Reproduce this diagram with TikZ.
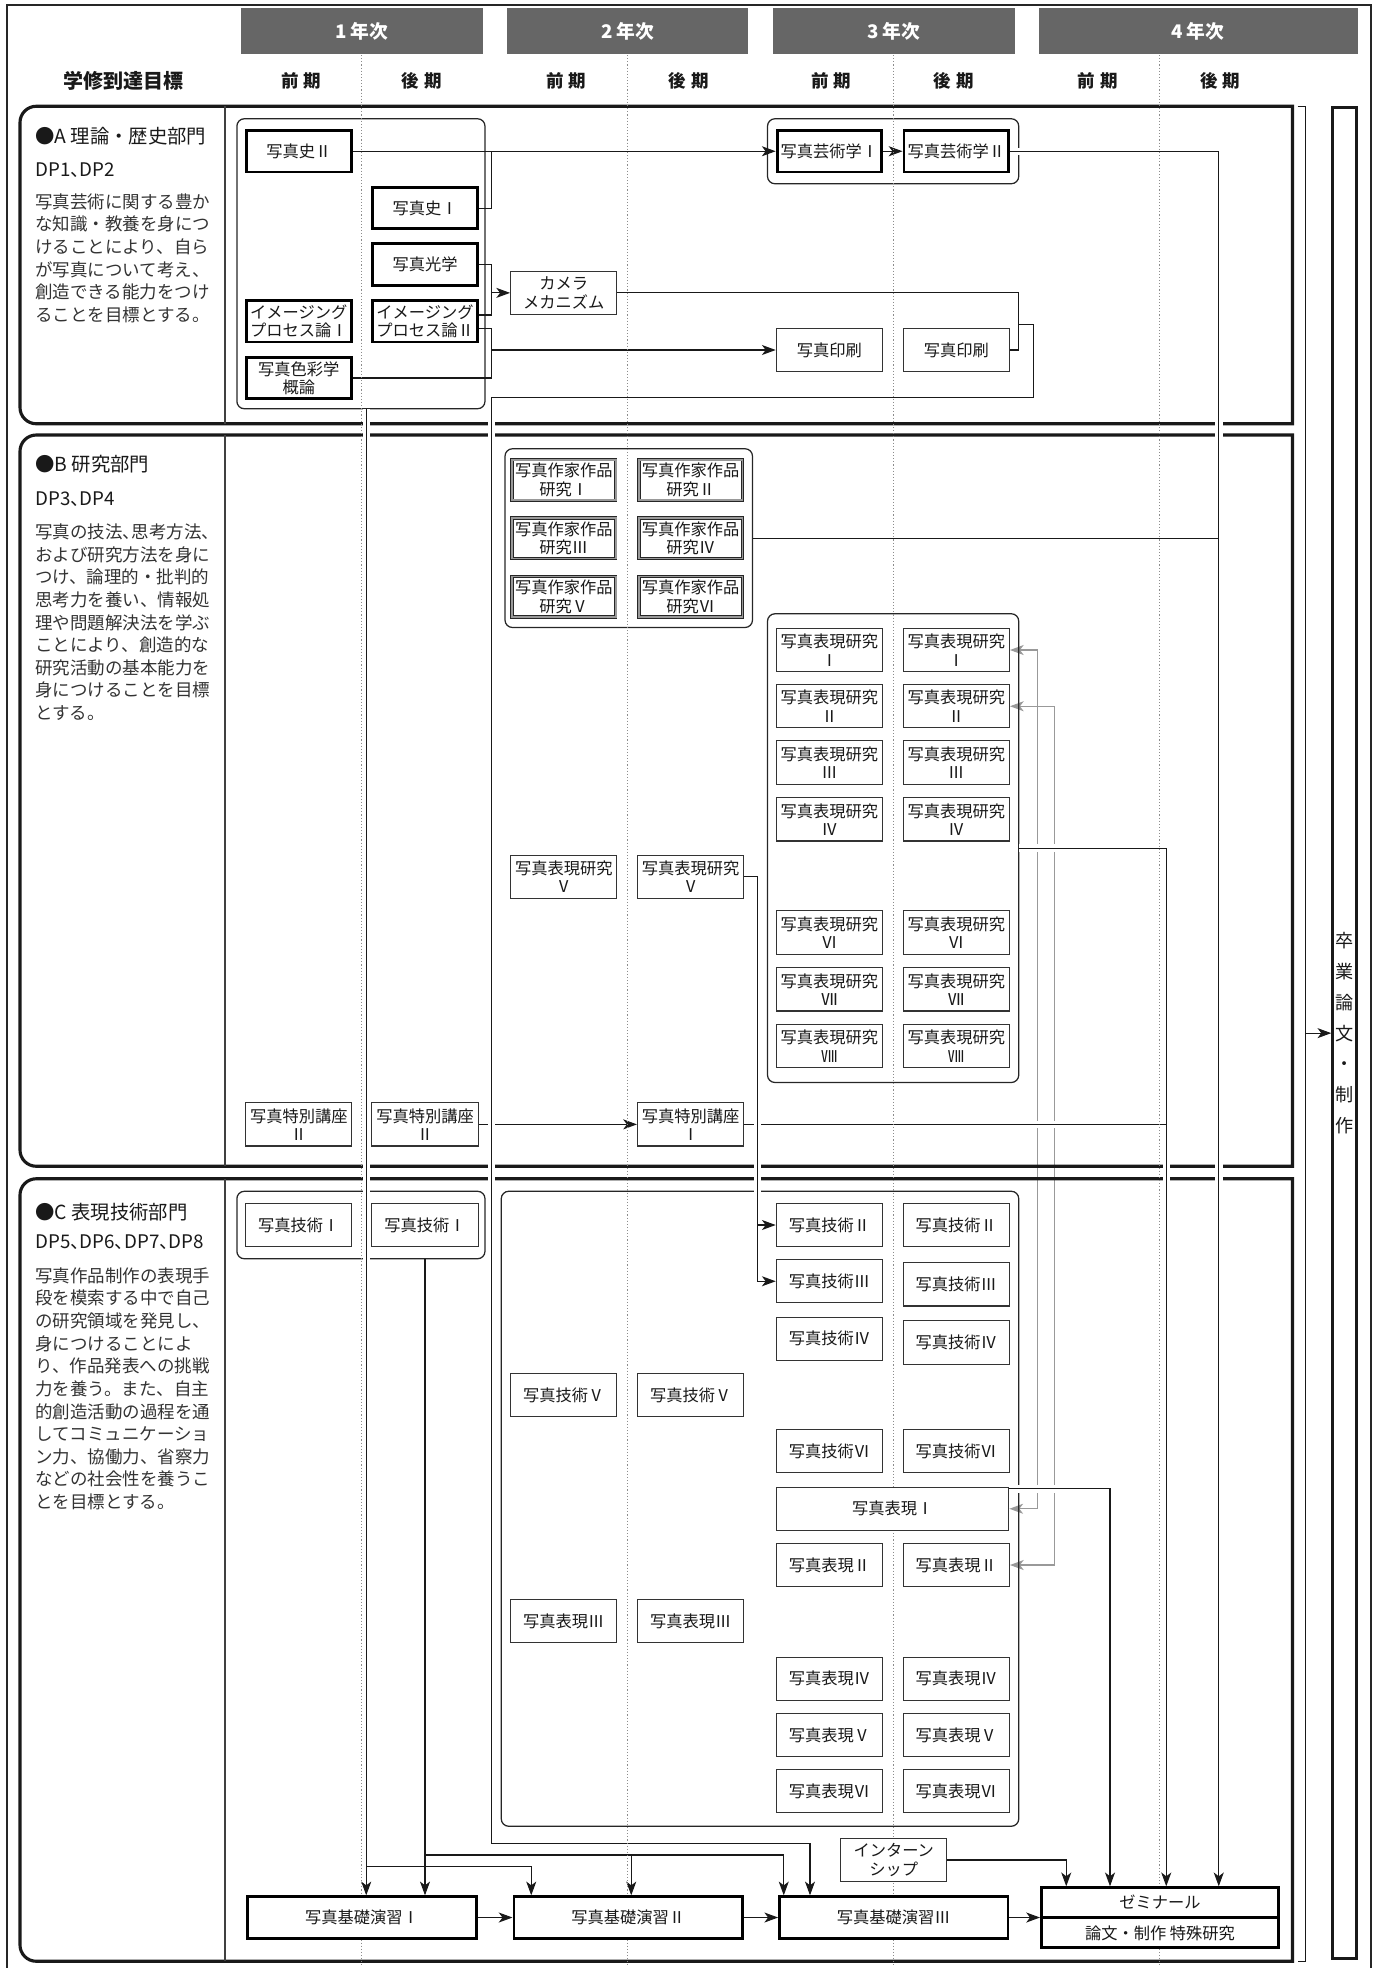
\documentclass[tikz,border=0pt]{standalone}
\usepackage{fontspec}
\setmainfont{Noto Sans CJK JP}
\usetikzlibrary{arrows.meta,calc}
\pgfdeclarelayer{greylinks}
\pgfdeclarelayer{frames}
\pgfdeclarelayer{groups}
\pgfdeclarelayer{links}
\pgfdeclarelayer{dividers}
\pgfsetlayers{greylinks,frames,groups,links,dividers,main}

\tikzset{
  yearbox/.style={fill=black!60, text=white, inner sep=0pt, minimum height=37.5pt,
    font=\fontsize{15}{15}\selectfont\bfseries},
  term/.style={inner sep=0pt, text=black!90, font=\fontsize{14}{14}\selectfont\bfseries},
  secttl/.style={anchor=west, inner sep=0pt, text=black!90, font=\fontsize{15.5}{15.5}\selectfont},
  secdp/.style={anchor=west, inner sep=0pt, text=black!90,
    font=\fontsize{15}{15}\selectfont\addfontfeature{RawFeature=+halt}},
  secdesc/.style={anchor=west, inner sep=0pt, align=left, text=black!80,
    font=\fontsize{14}{18.1}\selectfont},
  section/.style={draw=black!90, line width=2.5pt},
  secrule/.style={draw=black!75, line width=0.9pt},
  divider/.style={draw=black!45, line width=0.8pt, dash pattern=on 0.9pt off 1.6pt},
  grp/.style={draw=black!85, line width=1pt, rounded corners=6pt, inner sep=0pt},
  course/.style={draw=black!80, line width=0.9pt, fill=white, inner sep=0pt, align=center,
    minimum width=85pt, minimum height=34.6pt, text=black!90,
    font=\fontsize{13}{14.7}\selectfont},
  core/.style={course, draw=black, line width=2.3pt, minimum width=83.7pt, minimum height=33.2pt},
  work/.style={course, draw=black!85, line width=0.7pt, double=black!40, double distance=1.5pt,
    minimum width=83pt, minimum height=32.6pt},
  link/.style={draw=black!90, line width=0.85pt},
  bridge/.style={preaction={draw=white, line width=6pt, arrows=-}},
  gline/.style={draw=black!40, line width=0.9pt, <->},
}

\begin{document}
\begin{tikzpicture}[x=1pt, y=-1pt, >={Stealth[length=11pt,width=8pt,inset=3pt]}]
\useasboundingbox (0,0) rectangle (1100,1574.4);

% year heads
\node[yearbox, minimum width=193pt] (yr1) at (289.5,24.75) {1\hspace{3pt}年次};
\node[yearbox, minimum width=193pt] (yr2) at (502,24.75) {2\hspace{3pt}年次};
\node[yearbox, minimum width=194pt] (yr3) at (715,24.75) {3\hspace{3pt}年次};
\node[yearbox, minimum width=255pt] (yr4) at (958.5,24.75) {4\hspace{3pt}年次};

\node[term, font=\fontsize{16}{16}\selectfont\bfseries] (goal) at (98.5,64.5) {学修到達目標};
\node[term] (p1a) at (241,64.5) {前\hspace{4pt}期};
\node[term] (p1b) at (337.5,64.5) {後\hspace{4pt}期};
\node[term] (p2a) at (453,64.5) {前\hspace{4pt}期};
\node[term] (p2b) at (551,64.5) {後\hspace{4pt}期};
\node[term] (p3a) at (665,64.5) {前\hspace{4pt}期};
\node[term] (p3b) at (763,64.5) {後\hspace{4pt}期};
\node[term] (p4a) at (878,64.5) {前\hspace{4pt}期};
\node[term] (p4b) at (976,64.5) {後\hspace{4pt}期};

% section texts
\node[secttl] (aTtl) at (28,109) {●A 理論・歴史部門};
\node[secdp] (aDp) at (28,136) {DP1、DP2};
\node[secdesc] (aDesc) at (28,206.5) {写真芸術に関する豊か\\な知識・教養を身につ\\けることにより、自ら\\が写真について考え、\\創造できる能力をつけ\\ることを目標とする。};
\node[secttl] (bTtl) at (28,371) {●B 研究部門};
\node[secdp] (bDp) at (28,399) {DP3、DP4};
\node[secdesc] (bDesc) at (28,497.8) {{\addfontfeature{RawFeature=+halt}写真の技法、思考方法、}\\および研究方法を身に\\つけ、論理的・批判的\\思考力を養い、情報処\\理や問題解決法を学ぶ\\ことにより、創造的な\\研究活動の基本能力を\\身につけることを目標\\とする。};
\node[secttl] (cTtl) at (28,969.6) {●C 表現技術部門};
\node[secdp] (cDp) at (28,993.6) {DP5、DP6、DP7、DP8};
\node[secdesc] (cDesc) at (28,1111) {写真作品制作の表現手\\段を模索する中で自己\\の研究領域を発見し、\\身につけることによ\\り、作品発表への挑戦\\力を養う。また、自主\\的創造活動の過程を通\\してコミュニケーショ\\ン力、協働力、省察力\\などの社会性を養うこ\\とを目標とする。};

% A
\node[core] (shi2) at (239,121) {写真史Ⅱ};
\node[core] (shi1) at (340,166.5) {写真史Ⅰ};
\node[core] (kogaku) at (340,211.7) {写真光学};
\node[core] (img1) at (239,257) {イメージング\\プロセス論Ⅰ};
\node[core] (img2) at (340,257) {イメージング\\プロセス論Ⅱ};
\node[core] (shikisai) at (239,302.4) {写真色彩学\\概論};
\node[course] (camera) at (451,234.3) {カメラ\\メカニズム};
\node[course] (insatsuA) at (663.5,280) {写真印刷};
\node[course] (insatsuB) at (765,280) {写真印刷};
\node[core] (gei1) at (663.5,121) {写真芸術学Ⅰ};
\node[core] (gei2) at (765,121) {写真芸術学Ⅱ};

% B
\node[work] (sakka1) at (451,384) {写真作家作品\\研究Ⅰ};
\node[work] (sakka2) at (552.5,384) {写真作家作品\\研究Ⅱ};
\node[work] (sakka3) at (451,430.5) {写真作家作品\\研究Ⅲ};
\node[work] (sakka4) at (552.5,430.5) {写真作家作品\\研究Ⅳ};
\node[work] (sakka5) at (451,477.5) {写真作家作品\\研究Ⅴ};
\node[work] (sakka6) at (552.5,477.5) {写真作家作品\\研究Ⅵ};
\node[course] (hk1a) at (663.5,520) {写真表現研究\\Ⅰ};
\node[course] (hk1b) at (765,520) {写真表現研究\\Ⅰ};
\node[course] (hk2a) at (663.5,565) {写真表現研究\\Ⅱ};
\node[course] (hk2b) at (765,565) {写真表現研究\\Ⅱ};
\node[course] (hk3a) at (663.5,610) {写真表現研究\\Ⅲ};
\node[course] (hk3b) at (765,610) {写真表現研究\\Ⅲ};
\node[course] (hk4a) at (663.5,655.5) {写真表現研究\\Ⅳ};
\node[course] (hk4b) at (765,655.5) {写真表現研究\\Ⅳ};
\node[course] (hk5a) at (451,701.5) {写真表現研究\\Ⅴ};
\node[course] (hk5b) at (552.5,701.5) {写真表現研究\\Ⅴ};
\node[course] (hk6a) at (663.5,746) {写真表現研究\\Ⅵ};
\node[course] (hk6b) at (765,746) {写真表現研究\\Ⅵ};
\node[course] (hk7a) at (663.5,791.5) {写真表現研究\\Ⅶ};
\node[course] (hk7b) at (765,791.5) {写真表現研究\\Ⅶ};
\node[course] (hk8a) at (663.5,837) {写真表現研究\\Ⅷ};
\node[course] (hk8b) at (765,837) {写真表現研究\\Ⅷ};
\node[course] (tk2a) at (239,899.5) {写真特別講座\\Ⅱ};
\node[course] (tk2b) at (340,899.5) {写真特別講座\\Ⅱ};
\node[course] (tk1) at (552.5,899.5) {写真特別講座\\Ⅰ};

% C
\node[course] (gj1a) at (239,980) {写真技術Ⅰ};
\node[course] (gj1b) at (340,980) {写真技術Ⅰ};
\node[course] (gj2a) at (663.5,980) {写真技術Ⅱ};
\node[course] (gj2b) at (765,980) {写真技術Ⅱ};
\node[course] (gj3a) at (663.5,1025) {写真技術Ⅲ};
\node[course] (gj3b) at (765,1027.5) {写真技術Ⅲ};
\node[course] (gj4a) at (663.5,1071) {写真技術Ⅳ};
\node[course] (gj4b) at (765,1074) {写真技術Ⅳ};
\node[course] (gj5a) at (451,1116) {写真技術Ⅴ};
\node[course] (gj5b) at (552.5,1116) {写真技術Ⅴ};
\node[course] (gj6a) at (663.5,1161) {写真技術Ⅵ};
\node[course] (gj6b) at (765,1161) {写真技術Ⅵ};
\node[course, minimum width=185.6pt] (hyo1) at (714.25,1207) {写真表現Ⅰ};
\node[course] (hyo2a) at (663.5,1252) {写真表現Ⅱ};
\node[course] (hyo2b) at (765,1252) {写真表現Ⅱ};
\node[course] (hyo3a) at (451,1297) {写真表現Ⅲ};
\node[course] (hyo3b) at (552.5,1297) {写真表現Ⅲ};
\node[course] (hyo4a) at (663.5,1343) {写真表現Ⅳ};
\node[course] (hyo4b) at (765,1343) {写真表現Ⅳ};
\node[course] (hyo5a) at (663.5,1388) {写真表現Ⅴ};
\node[course] (hyo5b) at (765,1388) {写真表現Ⅴ};
\node[course] (hyo6a) at (663.5,1433) {写真表現Ⅵ};
\node[course] (hyo6b) at (765,1433) {写真表現Ⅵ};
\node[course] (intern) at (715,1488) {インターン\\シップ};
\node[core, minimum width=182.7pt] (kiso1) at (289.5,1534) {写真基礎演習Ⅰ};
\node[core, minimum width=182.7pt] (kiso2) at (502.5,1534) {写真基礎演習Ⅱ};
\node[core, minimum width=182.7pt] (kiso3) at (715,1534) {写真基礎演習Ⅲ};
\node[core, minimum width=189.7pt, minimum height=47.7pt] (zemi) at (928,1534) {};
\draw[draw=black, line width=1.8pt] (zemi.west) -- (zemi.east);
\node[inner sep=0pt, text=black!90, font=\fontsize{13}{13}\selectfont] (zemiU) at ([yshift=12.5pt]zemi.center) {ゼミナール};
\node[inner sep=0pt, text=black!90, font=\fontsize{13}{13}\selectfont] (zemiL) at ([yshift=-12.7pt]zemi.center) {論文・制作\hspace{3pt}特殊研究};
\node[draw=black!90, line width=2.3pt, minimum width=19.3pt, minimum height=1480.7pt, inner sep=0pt,
  align=center, text=black!90, font=\fontsize{14.5}{24.7}\selectfont] (sotsu) at (1075.8,826.5)
  {卒\\業\\論\\文\\・\\制\\作};

% grey two-way links
\begin{pgfonlayer}{greylinks}
  \coordinate (g1) at (830,800);
  \coordinate (g2) at (843.5,800);
  \draw[gline] (hk1b.east) -| (g1) |- (hyo1.east);
  \draw[gline] (hk2b.east) -| (g2) |- (hyo2b.east);
\end{pgfonlayer}

% sections
\begin{pgfonlayer}{frames}
  \draw[draw=black!85, line width=1.8pt] (5.4,4) rectangle (1097,1582);
  \draw[section] (500,85) [rounded corners=13pt] -- (16,85) -- (16,339) -- (500,339)
    [sharp corners] -- (1034,339) -- (1034,85) -- cycle;
  \draw[section] (500,348) [rounded corners=13pt] -- (16,348) -- (16,933) -- (500,933)
    [sharp corners] -- (1034,933) -- (1034,348) -- cycle;
  \draw[section] (500,943) [rounded corners=13pt] -- (16,943) -- (16,1569) -- (500,1569)
    [sharp corners] -- (1034,1569) -- (1034,943) -- cycle;
  \draw[secrule] (180,85) -- (180,339);
  \draw[secrule] (180,348) -- (180,933);
  \draw[secrule] (180,943) -- (180,1569);
  \draw[link] (1038,85) -- (1044.5,85) -- (1044.5,1569) -- (1038,1569);
\end{pgfonlayer}

% groups
\begin{pgfonlayer}{groups}
  \node[grp, minimum width=198.5pt, minimum height=232pt] (grpA) at (288.75,211) {};
  \node[grp, minimum width=201pt, minimum height=52pt] (grpGei) at (714.5,121) {};
  \node[grp, minimum width=198pt, minimum height=143pt] (grpSakka) at (503,430.5) {};
  \node[grp, minimum width=201pt, minimum height=375pt] (grpHk) at (714.5,678.5) {};
  \node[grp, minimum width=198.5pt, minimum height=54pt] (grpC1) at (288.75,980) {};
  \node[grp, minimum width=414pt, minimum height=508pt] (grpC2) at (608,1207) {};
\end{pgfonlayer}

% links
\begin{pgfonlayer}{links}
\begin{scope}[link]
  \coordinate (jshi) at (393,121);
  \coordinate (jcam) at (393,234.3);
  \coordinate (jpr) at (393,280);
  \coordinate (jcp) at (815,259.5);
  \coordinate (j975) at (975,430.5);
  \coordinate (j933) at (933,899.5);
  \coordinate (j606) at (606,1025);
  \coordinate (j606b) at (606,980);
  \coordinate (j293) at (293,1493);
  \coordinate (j340) at (340,1484);
  \coordinate (j505) at (505,1484);
  \coordinate (jsotsu) at (1044.5,826.5);

  \draw[->] (shi2) -- (gei1);
  \draw (shi1.east) -| (jshi);
  \draw[->] (gei1) -- (gei2);
  \draw (kogaku.east) -| (jcam) |- ($(img2.east)+(0,-5)$);
  \draw[->] (jcam) -- (camera.west);
  \draw ($(img2.east)+(0,6)$) -| (jpr) |- (shikisai.east);
  \draw[->] (jpr) -- (insatsuA.west);
  \draw[->,bridge] (gei2.east) -| ([xshift=47pt]zemi.north);
  \draw (grpSakka.east) -- (j975);

  \draw[->,bridge] (grpHk.east) -| ([xshift=5pt]zemi.north);
  \draw[->] (tk2b) -- (tk1);
  \draw[bridge] (tk1.east) -- (j933);
  \draw[->,bridge] (jcp) -| (827,318) -| (393,1475) -| ([xshift=-67pt]kiso3.north);
  \draw (camera.east) -| (jcp) |- (insatsuB.east);
  \draw[->,bridge] (hk5b.east) -| (j606) -- (gj3a.west);
  \draw[->] (j606b) -- (gj2a.west);

  \draw[->,bridge] ([yshift=16pt]hyo1.east) -| ([xshift=-40pt]zemi.north);
  \draw[->] (intern.east) -| ([xshift=-75pt]zemi.north);
  \draw[->,bridge] ([xshift=4.25pt]grpA.south) -- ([xshift=3.5pt]kiso1.north);
  \draw[->] (j293) -| ([xshift=-77.5pt]kiso2.north);
  \draw[->] ([xshift=51.25pt]grpC1.south) -- ([xshift=50.5pt]kiso1.north);
  \draw[->] (j340) -| ([xshift=-88pt]kiso3.north);
  \draw[->] (j505) -- ([xshift=2.5pt]kiso2.north);
  \draw[->] (kiso1) -- (kiso2);
  \draw[->] (kiso2) -- (kiso3);
  \draw[->] (kiso3) -- (zemi);
  \draw[->] (jsotsu) -- (sotsu.west);
\end{scope}
\end{pgfonlayer}

% term dividers
\begin{pgfonlayer}{dividers}
  \draw[divider] (289.5,44) -- (289.5,1572);
  \draw[divider] (502,44) -- (502,1572);
  \draw[divider] (715,44) -- (715,1572);
  \draw[divider] (927.5,44) -- (927.5,1572);
\end{pgfonlayer}
\end{tikzpicture}
\end{document}
